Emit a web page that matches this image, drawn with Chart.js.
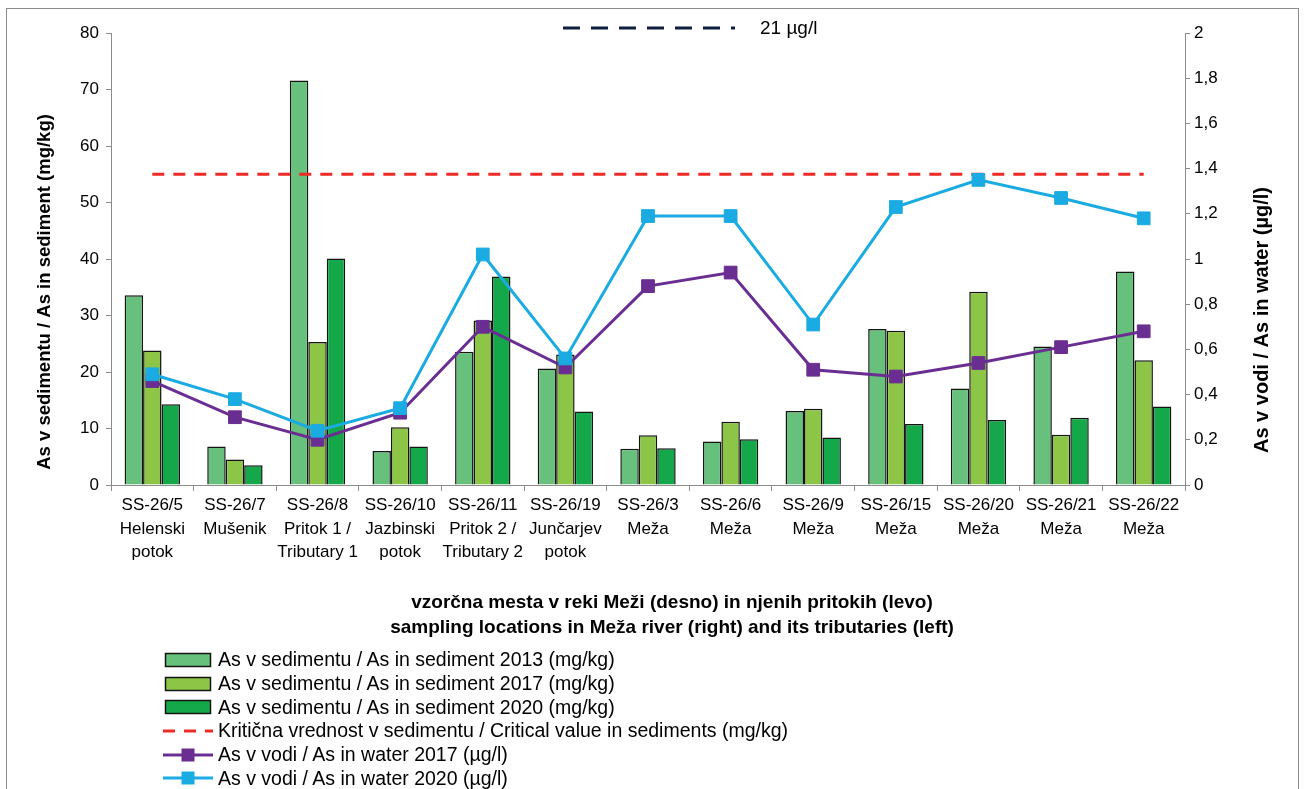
<!DOCTYPE html>
<html>
<head>
<meta charset="utf-8">
<script src="https://cdn.jsdelivr.net/npm/chart.js@4.4.1/dist/chart.umd.min.js"></script>
<style>
  body { margin: 0; width: 1306px; height: 789px; overflow: hidden; background: #fff;
         font-family: "Liberation Sans", Arial, sans-serif; }
  #frame { position: absolute; left: 6px; top: 8px; width: 1291px; height: 820px; border: 1px solid #8c8c8c; }
  #chart { position: absolute; left: 0; top: 0; }
  #topLegend { position: absolute; left: 563px; top: 17px; display: flex; align-items: center; font-size: 19px; }
  #legend { position: absolute; left: 163px; top: 648px; font-size: 19.5px; }
  .row { display: flex; align-items: center; height: 23.7px; }
  .row canvas { margin-right: 5px; }
</style>
</head>
<body>
<div id="frame"></div>
<canvas id="chart" width="1306" height="789"></canvas>
<div id="topLegend"></div>
<div id="legend"></div>
<script>
// sampling sites (x axis)
const sites = [
  ["SS-26/5", "Helenski", "potok"],
  ["SS-26/7", "Mušenik"],
  ["SS-26/8", "Pritok 1 /", "Tributary 1"],
  ["SS-26/10", "Jazbinski", "potok"],
  ["SS-26/11", "Pritok 2 /", "Tributary 2"],
  ["SS-26/19", "Junčarjev", "potok"],
  ["SS-26/3", "Meža"],
  ["SS-26/6", "Meža"],
  ["SS-26/9", "Meža"],
  ["SS-26/15", "Meža"],
  ["SS-26/20", "Meža"],
  ["SS-26/21", "Meža"],
  ["SS-26/22", "Meža"]
];

// As in sediment (mg/kg), left axis
const sediment2013 = [33.6, 6.8, 71.6, 6.0, 23.6, 20.6, 6.4, 7.7, 13.1, 27.6, 17.1, 24.5, 37.8];
const sediment2017 = [23.8, 4.5, 25.3, 10.2, 29.1, 23.1, 8.8, 11.2, 13.5, 27.3, 34.2, 8.9, 22.1];
const sediment2020 = [14.3, 3.5, 40.1, 6.8, 36.9, 13.0, 6.5, 8.1, 8.4, 10.8, 11.5, 11.9, 13.9];
const criticalSediment = [55, 55, 55, 55, 55, 55, 55, 55, 55, 55, 55, 55, 55];

// As in water (µg/l), right axis
const water2017 = [0.46, 0.30, 0.20, 0.32, 0.70, 0.52, 0.88, 0.94, 0.51, 0.48, 0.54, 0.61, 0.68];
const water2020 = [0.49, 0.38, 0.24, 0.34, 1.02, 0.56, 1.19, 1.19, 0.71, 1.23, 1.35, 1.27, 1.18];
const waterLimit = [21, 21, 21, 21, 21, 21, 21, 21, 21, 21, 21, 21, 21]; // above the axis, only shown in the top legend

const leftTicks = { min: 0, max: 80, step: 10 };
const rightTicks = { min: 0, max: 2, step: 0.2 };

const xTitle = [
  "vzorčna mesta v reki Meži (desno) in njenih pritokih (levo)",
  "sampling locations in Meža river (right) and its tributaries (left)"
];
const leftTitle = "As v sedimentu / As in sediment (mg/kg)";
const rightTitle = "As v vodi / As in water (µg/l)";
const limitLabel = "21 µg/l";

const FONT = '"Liberation Sans", Arial, sans-serif';
Chart.defaults.font.family = FONT;
Chart.defaults.color = "#000";

const axisGrey = "#8c8c8c";

// axis titles drawn by hand: Excel reads the right one bottom-to-top too
const axisTitles = {
  id: "axisTitles",
  afterDraw(chart) {
    const { ctx, chartArea } = chart;
    const midY = (chartArea.top + chartArea.bottom) / 2;
    const midX = (chartArea.left + chartArea.right) / 2;
    ctx.save();
    ctx.fillStyle = "#000";
    ctx.textAlign = "center";
    ctx.textBaseline = "middle";

    ctx.font = "bold 18.5px " + FONT;
    ctx.save();
    ctx.translate(chartArea.left - 66, midY + 33);
    ctx.rotate(-Math.PI / 2);
    ctx.fillText(leftTitle, 0, 0);
    ctx.restore();

    ctx.font = "bold 20px " + FONT;
    ctx.save();
    ctx.translate(chartArea.right + 77, midY + 61);
    ctx.rotate(-Math.PI / 2);
    ctx.fillText(rightTitle, 0, 0);
    ctx.restore();

    ctx.font = "bold 19px " + FONT;
    ctx.fillText(xTitle[0], midX + 24, chartArea.bottom + 118);
    ctx.fillText(xTitle[1], midX + 24, chartArea.bottom + 143);
    ctx.restore();
  }
};

const barStyle = {
  type: "bar", borderColor: "#141414", borderWidth: 1.5, order: 5, yAxisID: "y",
  categoryPercentage: 0.67, barPercentage: 1.0
};

const chart = new Chart(document.getElementById("chart"), {
  data: {
    labels: sites,
    datasets: [
      { ...barStyle, label: "As v sedimentu / As in sediment 2013 (mg/kg)", data: sediment2013, backgroundColor: "#67c07c" },
      { ...barStyle, label: "As v sedimentu / As in sediment 2017 (mg/kg)", data: sediment2017, backgroundColor: "#8dc647" },
      { ...barStyle, label: "As v sedimentu / As in sediment 2020 (mg/kg)", data: sediment2020, backgroundColor: "#14a84a" },
      { type: "line", label: "Kritična vrednost v sedimentu / Critical value in sediments (mg/kg)", data: criticalSediment,
        borderColor: "#ee2a24", borderWidth: 3, borderDash: [12, 9], pointRadius: 0, order: 2, yAxisID: "y" },
      { type: "line", label: "As v vodi / As in water 2017 (µg/l)", data: water2017,
        borderColor: "#6a2e92", backgroundColor: "#6a2e92", borderWidth: 3,
        pointStyle: "rect", pointRadius: 9, pointBorderWidth: 1, pointBackgroundColor: "#6a2e92", pointBorderColor: "#6a2e92",
        order: 1, yAxisID: "y1" },
      { type: "line", label: "As v vodi / As in water 2020 (µg/l)", data: water2020,
        borderColor: "#1aabe2", backgroundColor: "#1aabe2", borderWidth: 3,
        pointStyle: "rect", pointRadius: 9, pointBorderWidth: 1, pointBackgroundColor: "#1aabe2", pointBorderColor: "#1aabe2",
        order: 0, yAxisID: "y1" },
      { type: "line", label: limitLabel, data: waterLimit,
        borderColor: "#0f1f3d", borderWidth: 3, borderDash: [17, 11], pointRadius: 0, order: 3, yAxisID: "y1" }
    ]
  },
  options: {
    responsive: false,
    animation: false,
    devicePixelRatio: 1,
    layout: { padding: { left: 51, right: 61, top: 33, bottom: 0 } },
    plugins: { legend: { display: false }, tooltip: { enabled: false } },
    scales: {
      x: {
        offset: true,
        grid: { offset: true, drawOnChartArea: false, drawTicks: true, tickLength: 6, color: axisGrey },
        border: { color: axisGrey },
        ticks: { font: { size: 17, lineHeight: 1.37 }, padding: 3, maxRotation: 0, autoSkip: false },
        afterFit: (s) => { s.height = 304; }
      },
      y: {
        position: "left",
        min: leftTicks.min, max: leftTicks.max,
        grid: { drawOnChartArea: false, tickLength: 5, color: axisGrey },
        border: { color: axisGrey },
        ticks: { stepSize: leftTicks.step, font: { size: 17 }, padding: 7 },
        afterFit: (s) => { s.width = 60; }
      },
      y1: {
        position: "right",
        min: rightTicks.min, max: rightTicks.max,
        grid: { drawOnChartArea: false, tickLength: 5, color: axisGrey },
        border: { color: axisGrey },
        ticks: { stepSize: rightTicks.step, font: { size: 17 }, padding: 4,
                 callback: (v) => String(Math.round(v * 10) / 10).replace(".", ",") },
        afterFit: (s) => { s.width = 60; }
      }
    }
  },
  plugins: [axisTitles]
});

// legend swatches, drawn from each dataset's own style
function swatch(ds, w) {
  const c = document.createElement("canvas");
  c.width = w; c.height = 22;
  const ctx = c.getContext("2d");
  if (ds.type === "bar") {
    ctx.fillStyle = ds.backgroundColor;
    ctx.fillRect(2, 4, w - 4, 14);
    ctx.strokeStyle = ds.borderColor;
    ctx.lineWidth = 1.5;
    ctx.strokeRect(2.5, 4.5, w - 5, 13);
  } else {
    ctx.strokeStyle = ds.borderColor;
    ctx.lineWidth = ds.borderWidth;
    ctx.setLineDash(ds.borderDash || []);
    ctx.beginPath();
    ctx.moveTo(0, 11);
    ctx.lineTo(w, 11);
    ctx.stroke();
    if (ds.pointRadius > 0) {
      ctx.fillStyle = ds.pointBackgroundColor;
      ctx.fillRect(w / 2 - 6.5, 4.5, 13, 13);
    }
  }
  return c;
}

const legendBox = document.getElementById("legend");
const topBox = document.getElementById("topLegend");
chart.data.datasets.forEach((ds) => {
  const row = document.createElement("div");
  row.className = "row";
  const label = document.createElement("span");
  label.textContent = ds.label;
  if (ds.label === limitLabel) {
    const sw = swatch(ds, 172);
    sw.style.marginRight = "25px";
    topBox.appendChild(sw);
    topBox.appendChild(label);
  } else {
    row.appendChild(swatch(ds, 50));
    row.appendChild(label);
    legendBox.appendChild(row);
  }
});
</script>
</body>
</html>
